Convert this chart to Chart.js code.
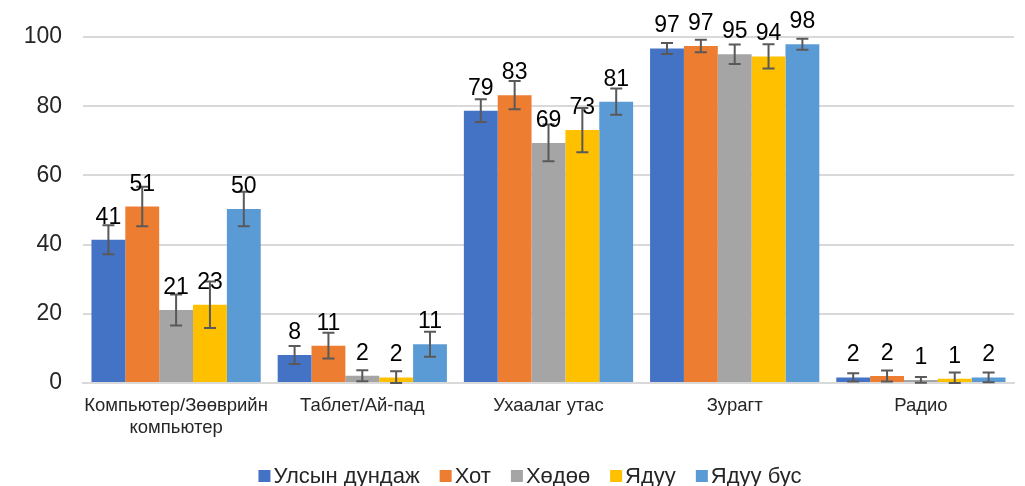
<!DOCTYPE html>
<html>
<head>
<meta charset="utf-8">
<script src="https://cdn.jsdelivr.net/npm/chart.js@4"></script>
<style>
    html, body { margin: 0; padding: 0; background: #fff; }
    #wrap { width: 1025px; height: 486px; }
</style>
</head>
<body>
<div id="wrap"><canvas id="devChart"></canvas></div>
<script>
// Categories and series
const categories = [['Компьютер/Зөөврийн', 'компьютер'], 'Таблет/Ай-пад', 'Ухаалаг утас', 'Зурагт', 'Радио'];
const seriesNames = ['Улсын дундаж', 'Хот', 'Хөдөө', 'Ядуу', 'Ядуу бус'];

const national = [41.4, 8.1, 78.7, 96.7, 1.6];
const city = [51.0, 10.8, 83.2, 97.4, 2.0];
const rural = [21.1, 2.1, 69.4, 95.0, 0.9];
const poor = [22.6, 1.6, 73.1, 94.4, 1.2];
const nonPoor = [50.3, 11.2, 81.3, 97.9, 1.6];

// Error margins (+/-)
const nationalErr = [4.2, 2.6, 3.3, 1.6, 1.2];
const cityErr = [5.7, 3.7, 4.1, 1.8, 1.6];
const ruralErr = [4.5, 1.6, 5.3, 2.8, 0.8];
const poorErr = [6.7, 1.8, 6.4, 3.5, 1.8];
const nonPoorErr = [5.0, 3.6, 3.8, 1.6, 1.4];

const yTicks = [0, 20, 40, 60, 80, 100];

const colors = ['#4472C4', '#ED7D31', '#A5A5A5', '#FFC000', '#5B9BD5'];
const FONT = '"Liberation Sans", Arial, sans-serif';

const values = [national, city, rural, poor, nonPoor];
const errors = [nationalErr, cityErr, ruralErr, poorErr, nonPoorErr];

// Error bars + value labels
const barExtras = {
    id: 'barExtras',
    afterDatasetsDraw(chart) {
        const ctx = chart.ctx;
        const y = chart.scales.y;
        ctx.save();
        chart.data.datasets.forEach((ds, di) => {
            const meta = chart.getDatasetMeta(di);
            meta.data.forEach((bar, i) => {
                const v = ds.data[i];
                const e = ds.err[i];
                const hi = y.getPixelForValue(v + e);
                const lo = y.getPixelForValue(Math.max(0, v - e));
                ctx.strokeStyle = '#595959';
                ctx.lineWidth = 2;
                ctx.beginPath();
                ctx.moveTo(bar.x, hi); ctx.lineTo(bar.x, lo);
                ctx.moveTo(bar.x - 6, hi); ctx.lineTo(bar.x + 6, hi);
                ctx.moveTo(bar.x - 6, lo); ctx.lineTo(bar.x + 6, lo);
                ctx.stroke();
            });
        });
        chart.data.datasets.forEach((ds, di) => {
            const meta = chart.getDatasetMeta(di);
            meta.data.forEach((bar, i) => {
                ctx.fillStyle = '#000';
                ctx.font = '23px ' + FONT;
                ctx.textAlign = 'center';
                ctx.textBaseline = 'alphabetic';
                ctx.fillText(Math.round(ds.data[i]), bar.x, bar.y - 16);
            });
        });
        ctx.restore();
    }
};

// Legend drawn by hand (tighter box/text spacing than the built-in one)
const bottomLegend = {
    id: 'bottomLegend',
    afterDraw(chart) {
        const ctx = chart.ctx;
        const box = 12, textGap = 3, itemGap = 20, cy = 476, cx = 530;
        ctx.save();
        ctx.font = '22px ' + FONT;
        const widths = chart.data.datasets.map(ds => box + textGap + ctx.measureText(ds.label).width);
        const total = widths.reduce((a, b) => a + b, 0) + itemGap * (widths.length - 1);
        let x = cx - total / 2;
        chart.data.datasets.forEach((ds, i) => {
            ctx.fillStyle = ds.backgroundColor;
            ctx.fillRect(x, cy - box / 2, box, box);
            ctx.fillStyle = '#262626';
            ctx.textAlign = 'left';
            ctx.textBaseline = 'middle';
            ctx.fillText(ds.label, x + box + textGap, cy + 1);
            x += widths[i] + itemGap;
        });
        ctx.restore();
    }
};

const ctx = document.getElementById('devChart').getContext('2d');
new Chart(ctx, {
    type: 'bar',
    data: {
        labels: categories,
        datasets: seriesNames.map((name, i) => ({
            label: name,
            data: values[i],
            err: errors[i],
            backgroundColor: colors[i],
            borderWidth: 0,
            categoryPercentage: 0.909,
            barPercentage: 1.0
        }))
    },
    options: {
        responsive: true,
        maintainAspectRatio: false,
        animation: false,
        layout: { padding: { top: 37, right: 11, left: 0, bottom: 42 } },
        plugins: {
            legend: { display: false },
            tooltip: { enabled: false }
        },
        scales: {
            x: {
                grid: { display: false, drawTicks: false },
                border: { color: '#d9d9d9', width: 2 },
                ticks: {
                    font: { family: FONT, size: 18.5, lineHeight: 1.2 },
                    color: '#262626',
                    padding: 12,
                    maxRotation: 0,
                    autoSkip: false
                },
                afterFit(scale) { scale.height = 61; }
            },
            y: {
                min: 0,
                max: 100,
                afterBuildTicks(scale) { scale.ticks = yTicks.map(v => ({ value: v })); },
                grid: { color: '#d9d9d9', lineWidth: 2, drawTicks: false },
                border: { display: false },
                ticks: {
                    font: { family: FONT, size: 23 },
                    color: '#262626',
                    padding: 21
                },
                afterFit(scale) { scale.width = 83; }
            }
        }
    },
    plugins: [barExtras, bottomLegend]
});
</script>
</body>
</html>
